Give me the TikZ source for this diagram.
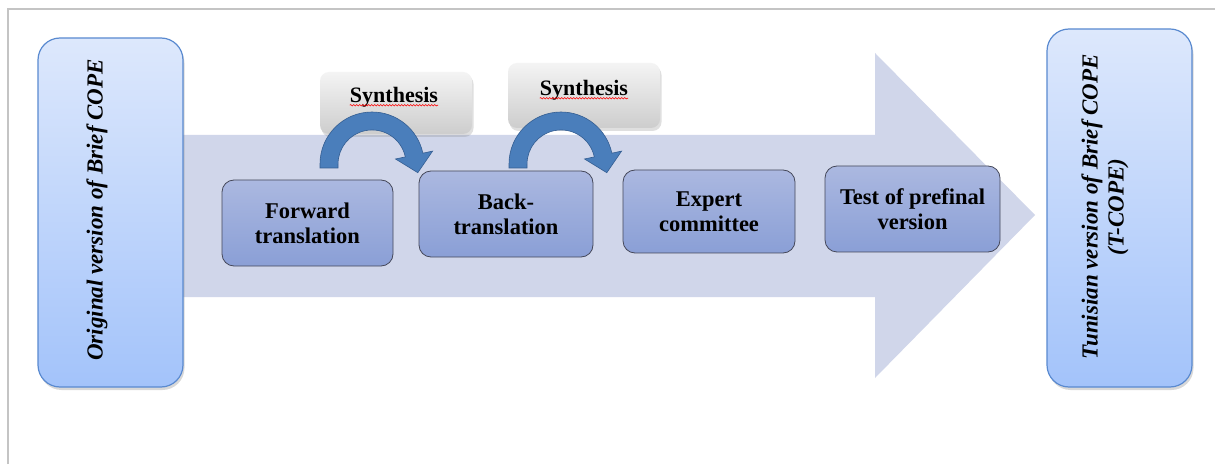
\documentclass[tikz,border=0pt]{standalone}
\usepackage{fontspec}
\setmainfont{Liberation Serif}
\usetikzlibrary{shadows,decorations.pathmorphing}
\definecolor{talltop}{HTML}{DDE8FC}
\definecolor{tallbot}{HTML}{A3C3FA}
\definecolor{tallborder}{HTML}{5A8AD0}
\definecolor{steptop}{HTML}{ABB8E0}
\definecolor{stepbot}{HTML}{8A9FD6}
\definecolor{stepborder}{HTML}{45485A}
\definecolor{syntop}{HTML}{F4F4F4}
\definecolor{synbot}{HTML}{CDCDCD}
\definecolor{bigarrow}{HTML}{D0D6EA}
\definecolor{framegray}{HTML}{C4C4C4}
\definecolor{bendfill}{RGB}{74,126,187}
\definecolor{benddraw}{RGB}{52,94,146}
\begin{document}
\begin{tikzpicture}[x=1pt,y=1pt,
  tallbox/.style={draw=tallborder, line width=1.2pt, rounded corners=22pt,
    top color=talltop, bottom color=tallbot,
    drop shadow={shadow xshift=1.5pt, shadow yshift=-3pt, opacity=0.3}},
  talltext/.style={rotate=90, align=center, font=\fontsize{23}{26}\selectfont\bfseries\itshape, inner sep=0pt},
  stepbox/.style={draw=stepborder, line width=0.8pt, rounded corners=12pt,
    top color=steptop, bottom color=stepbot, align=center,
    font=\fontsize{22.5}{25}\selectfont\bfseries, inner sep=0pt},
  synthbox/.style={rounded corners=9pt, top color=syntop, bottom color=synbot,
    drop shadow={shadow xshift=1.5pt, shadow yshift=-3pt, opacity=0.25}},
  synthtext/.style={font=\fontsize{22}{25}\selectfont\bfseries, inner sep=0pt},
  squiggle/.style={red, line width=0.6pt, decorate, decoration={snake, amplitude=0.7pt, segment length=3pt}},
  bendstyle/.style={fill=bendfill, draw=benddraw, line width=0.6pt},
  bendarrow/.pic={
    \filldraw[bendstyle] (-52,-4) -- (-52,0) arc[start angle=180, end angle=12, radius=52]
      -- (60.6,12.9) -- (45.8,-8.7) -- (23.5,5.0) -- (33.3,7.1)
      arc[start angle=12, end angle=180, radius=34] -- (-34,-4) -- cycle;
  }
]
\useasboundingbox (0,0) rectangle (1215,464);
\fill[white] (0,0) rectangle (1215,464);
\draw[framegray, line width=1.5pt] (8,0) -- (8,455) -- (1215,455);

% big background arrow
\fill[bigarrow] (183,167) -- (875,167) -- (875,86) -- (1035,249) -- (875,411) -- (875,329) -- (183,329) -- cycle;

% tall boxes
\node[tallbox, minimum width=145pt, minimum height=349pt] (orig) at (110.5,251.5) {};
\node[talltext] (origtxt) at (97,254) {Original version of Brief COPE};
\node[tallbox, minimum width=145pt, minimum height=358pt] (tun) at (1119.5,256) {};
\node[talltext] (tuntxt) at (1105,257) {Tunisian version of Brief COPE\\(T-COPE)};

% synthesis boxes
\node[synthbox, minimum width=152pt, minimum height=62pt] (syn1) at (396,361) {};
\node[synthtext] (syn1txt) at (394,367) {Synthesis};
\node[synthbox, minimum width=152pt, minimum height=65pt] (syn2) at (584,368.5) {};
\node[synthtext] (syn2txt) at (584,374) {Synthesis};
\draw[squiggle] ([yshift=-3pt]syn1txt.base west) -- ([yshift=-3pt]syn1txt.base east);
\draw[squiggle] ([yshift=-3pt]syn2txt.base west) -- ([yshift=-3pt]syn2txt.base east);

% curved arrows
\pic at (372,300) {bendarrow};
\pic at (561,300) {bendarrow};

% step boxes
\node[stepbox, minimum width=171pt, minimum height=86pt] (fwd) at (307.5,241) {Forward\\translation};
\node[stepbox, minimum width=174pt, minimum height=86pt] (back) at (506,250) {Back-\\translation};
\node[stepbox, minimum width=172pt, minimum height=83pt] (exp) at (709,252.5) {Expert\\committee};
\node[stepbox, minimum width=175pt, minimum height=86pt] (test) at (912.5,255) {Test of prefinal\\version};
\end{tikzpicture}
\end{document}
